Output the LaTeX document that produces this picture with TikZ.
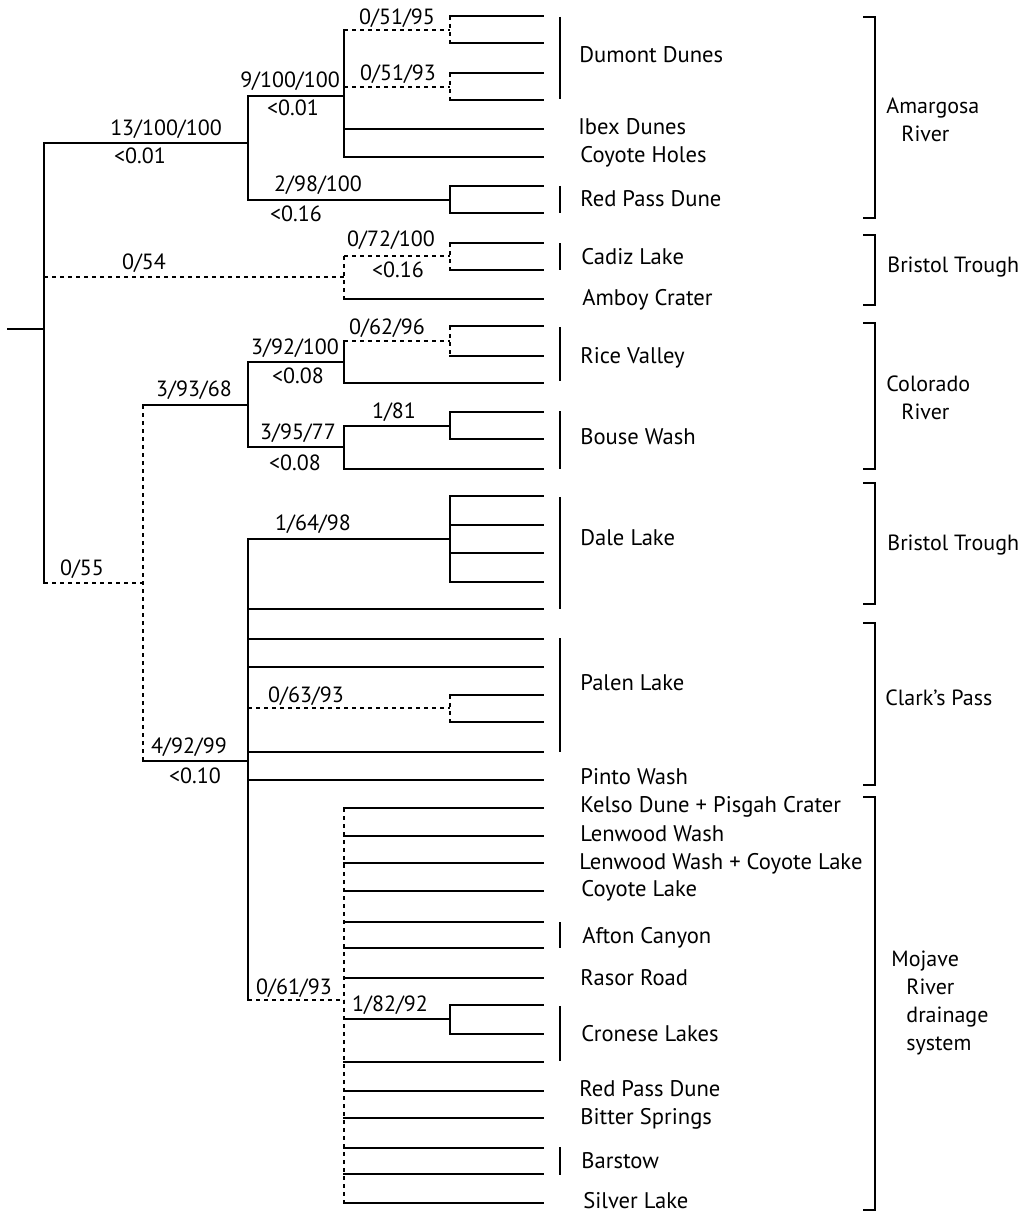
\documentclass[tikz,border=0pt]{standalone}
\usepackage{fontspec}
\setmainfont{PT Sans}

\begin{document}
\begin{tikzpicture}[
  x=0.5pt, y=-0.5pt,
  font=\fontsize{11}{14}\selectfont,
  branch/.style={line width=1pt, line cap=rect},
  weak/.style={line width=1pt, dash pattern=on 2pt off 2pt},
  grpbar/.style={line width=0.9pt},
  region/.style={line width=0.9pt},
  support/.style={inner sep=0pt, text height=7.6pt, text depth=0pt},
  site/.style={inner sep=0pt, text height=7.6pt, text depth=0pt, anchor=west, font=\fontsize{11.3}{14}\selectfont},
  area/.style={inner sep=0pt, align=left, anchor=north west}
]
\useasboundingbox (0,0) rectangle (1033,1214);

% internal nodes
\coordinate (stub)  at (8,329);
\coordinate (root)  at (44,329);
\coordinate (nA)    at (248,143);
\coordinate (nB)    at (344,96);
\coordinate (n5195) at (450,30);
\coordinate (n5193) at (450,87);
\coordinate (nRP)   at (450,200);
\coordinate (nBT)   at (344,277);
\coordinate (n72)   at (450,256);
\coordinate (nC)    at (143,583);
\coordinate (nD)    at (248,405);
\coordinate (nF)    at (344,362);
\coordinate (n62)   at (450,341);
\coordinate (nG)    at (344,447);
\coordinate (n81)   at (450,426);
\coordinate (nE)    at (248,761);
\coordinate (nH)    at (450,539);
\coordinate (n63)   at (450,708);
\coordinate (nI)    at (344,1000);
\coordinate (nJ)    at (450,1019);

% leaves: name/y/parent
\foreach \n/\y/\p in {l1/16/n5195, l2/43/n5195, l3/73/n5193, l4/100/n5193, l5/129/nB, l6/157/nB,
  l7/186/nRP, l8/213/nRP, l9/243/n72, l10/270/n72, l11/299/nBT,
  l12/326/n62, l13/356/n62, l14/383/nF, l15/412/n81, l16/439/n81, l17/469/nG,
  l18/496/nH, l19/525/nH, l20/553/nH, l21/582/nH, l22/609/nE, l23/639/nE, l24/667/nE,
  l25/695/n63, l26/722/n63, l27/752/nE, l28/780/nE,
  l29/808/nI, l30/836/nI, l31/863/nI, l32/891/nI, l33/922/nI, l34/948/nI, l35/978/nI,
  l36/1005/nJ, l37/1034/nJ, l38/1062/nI, l39/1091/nI, l40/1118/nI,
  l41/1148/nI, l42/1174/nI, l43/1203/nI}
{
  \coordinate (\n) at (543,\y);
  \draw[branch] (\n -| \p) -- (\n);
}

% branches to internal nodes
\draw[branch] (stub) -- (root);
\foreach \c/\p/\s in {nA/root/branch, nB/nA/branch, n5195/nB/weak, n5193/nB/weak, nRP/nA/branch,
  nBT/root/weak, n72/nBT/weak, nC/root/weak, nD/nC/branch, nF/nD/branch, n62/nF/weak,
  nG/nD/branch, n81/nG/branch, nE/nC/branch, nH/nE/branch, n63/nE/weak, nI/nE/weak, nJ/nI/branch}
  \draw[\s] (\c -| \p) -- (\c);

% verticals
\foreach \n/\a/\b/\s in {root/nA/nC/branch, nA/nB/nRP/branch, nB/n5195/l6/branch, n5195/l1/l2/weak,
  n5193/l3/l4/weak, nRP/l7/l8/branch, nBT/n72/l11/weak, n72/l9/l10/weak, nC/nD/nE/weak,
  nD/nF/nG/branch, nF/n62/l14/branch, n62/l12/l13/weak, nG/n81/l17/branch, n81/l15/l16/branch,
  nE/nH/nI/branch, nH/l18/l21/branch, n63/l25/l26/weak, nI/l29/l43/weak, nJ/l36/l37/branch}
  \draw[\s] (\a -| \n) -- (\b -| \n);

% support values
\node[support] (s5195) at (397,17) {0/51/95};
\node[support] (s5193) at (398,73) {0/51/93};
\node[support] (sB)    at (290,80) {9/100/100};
\node[support] (pB)    at (293,108) {<0.01};
\node[support] (sA)    at (166,128) {13/100/100};
\node[support] (pA)    at (140,156) {<0.01};
\node[support] (sRP)   at (318,184) {2/98/100};
\node[support] (pRP)   at (296,214) {<0.16};
\node[support] (s72)   at (391,239) {0/72/100};
\node[support] (p72)   at (398,270) {<0.16};
\node[support] (sBT)   at (144,262) {0/54};
\node[support] (s62)   at (387,327) {0/62/96};
\node[support] (sF)    at (295,347) {3/92/100};
\node[support] (pF)    at (298,376) {<0.08};
\node[support] (sD)    at (194,389) {3/93/68};
\node[support] (s81)   at (394,411) {1/81};
\node[support] (sG)    at (298,432) {3/95/77};
\node[support] (pG)    at (295,463) {<0.08};
\node[support] (sH)    at (313,523) {1/64/98};
\node[support] (sC)    at (82,568) {0/55};
\node[support] (s63)   at (306,695) {0/63/93};
\node[support] (sE)    at (189,746) {4/92/99};
\node[support] (pE)    at (195,776) {<0.10};
\node[support] (sI)    at (294,987) {0/61/93};
\node[support] (sJ)    at (390,1004) {1/82/92};

% sample sites
\draw[grpbar] (560,17) -- (560,99);
\draw[grpbar] (560,186) -- (560,213);
\draw[grpbar] (560,243) -- (560,270);
\draw[grpbar] (560,327) -- (560,381);
\draw[grpbar] (560,411) -- (560,469);
\draw[grpbar] (560,497) -- (560,609);
\draw[grpbar] (560,638) -- (560,752);
\draw[grpbar] (560,922) -- (560,948);
\draw[grpbar] (560,1006) -- (560,1061);
\draw[grpbar] (560,1147) -- (560,1175);
\node[site] (dumont)  at (579,55) {Dumont Dunes};
\node[site] (ibex)    at (578,127) {Ibex Dunes};
\node[site] (coyoteh) at (580,155) {Coyote Holes};
\node[site] (redpa)   at (580,199) {Red Pass Dune};
\node[site] (cadiz)   at (581,257) {Cadiz Lake};
\node[site] (amboy)   at (582,298) {Amboy Crater};
\node[site] (rice)    at (580,356) {Rice Valley};
\node[site] (bouse)   at (580,437) {Bouse Wash};
\node[site] (dale)    at (580,538) {Dale Lake};
\node[site] (palen)   at (580,683) {Palen Lake};
\node[site] (pinto)   at (580,777) {Pinto Wash};
\node[site] (kelso)   at (580,805) {Kelso Dune + Pisgah Crater};
\node[site] (lenw)    at (580,834) {Lenwood Wash};
\node[site] (lenwc)   at (579,862) {Lenwood Wash + Coyote Lake};
\node[site] (coyotel) at (581,889) {Coyote Lake};
\node[site] (afton)   at (582,936) {Afton Canyon};
\node[site] (rasor)   at (580,978) {Rasor Road};
\node[site] (cronese) at (581,1034) {Cronese Lakes};
\node[site] (redpb)   at (579,1089) {Red Pass Dune};
\node[site] (bitter)  at (580,1117) {Bitter Springs};
\node[site] (barstow) at (581,1161) {Barstow};
\node[site] (silver)  at (583,1201) {Silver Lake};

% drainage regions
\draw[region] (863,17) -- (875,17) -- (875,218) -- (863,218);
\draw[region] (863,235) -- (875,235) -- (875,305) -- (863,305);
\draw[region] (863,323) -- (875,323) -- (875,469) -- (863,469);
\draw[region] (863,483) -- (875,483) -- (875,604) -- (863,604);
\draw[region] (863,623) -- (875,623) -- (875,785) -- (863,785);
\draw[region] (863,797) -- (875,797) -- (875,1210) -- (863,1210);
\node[area] (amargosa) at (886,97) {Amargosa\\\hspace*{7.5pt}River};
\node[site, font=\fontsize{11}{14}\selectfont] (bristola) at (887,265) {Bristol Trough};
\node[area] (colorado) at (886,375) {Colorado\\\hspace*{7.5pt}River};
\node[site, font=\fontsize{11}{14}\selectfont] (bristolb) at (887,543) {Bristol Trough};
\node[site, font=\fontsize{11}{14}\selectfont] (clark)    at (885,698) {Clark’s Pass};
\node[area] (mojave)   at (891,951) {Mojave\\\hspace*{7.5pt}River\\\hspace*{7.5pt}drainage\\\hspace*{7.5pt}system};
\end{tikzpicture}
\end{document}
